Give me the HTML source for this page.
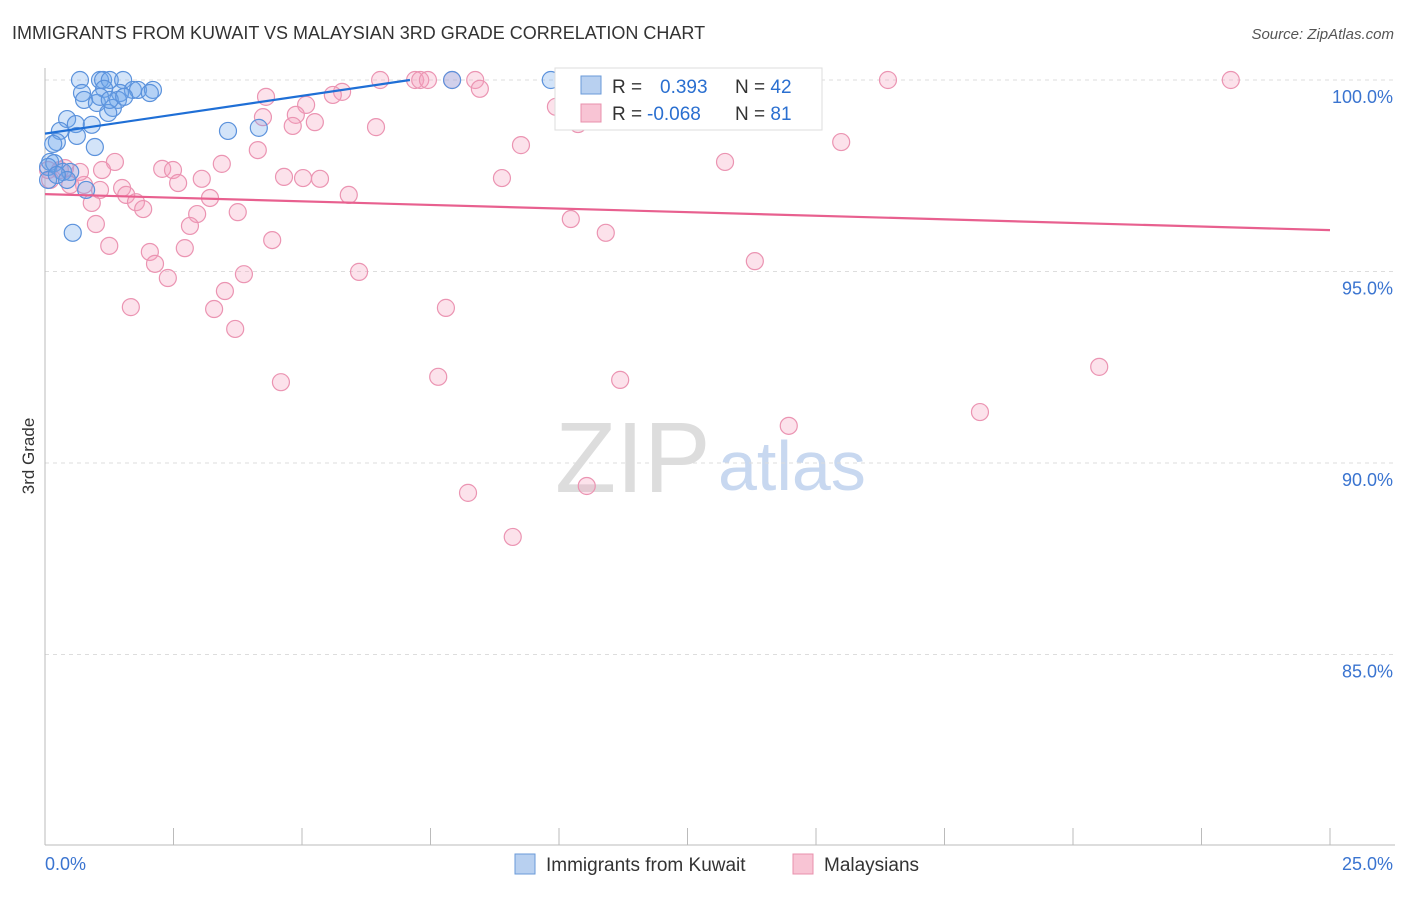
<!DOCTYPE html>
<html><head><meta charset="utf-8"><style>
body{margin:0;background:#fff;font-family:"Liberation Sans",sans-serif}
svg text{font-family:"Liberation Sans",sans-serif}
</style></head><body>
<svg width="1406" height="892">
<text x="12" y="39" font-size="18" fill="#333">IMMIGRANTS FROM KUWAIT VS MALAYSIAN 3RD GRADE CORRELATION CHART</text>
<text x="1394" y="39" font-size="15" fill="#555" font-style="italic" text-anchor="end">Source: ZipAtlas.com</text>
<text x="34" y="456" font-size="17" fill="#333" text-anchor="middle" transform="rotate(-90 34 456)">3rd Grade</text>
<text x="555" y="492" font-size="100" fill="#ddd" font-family="Liberation Serif">ZIP</text>
<text x="718" y="490" font-size="70" fill="#c8d8f0">atlas</text>
<g id="grid"></g><g id="axes"></g><g id="pts"></g><g id="lines"></g>
<g>
<rect x="555" y="68" width="267" height="62" fill="#fff" stroke="#ddd"/>
<rect x="581" y="76" width="20" height="18" fill="#b8d0f0" stroke="#6a9ad8"/>
<rect x="581" y="104" width="20" height="18" fill="#f8c4d4" stroke="#e890ac"/>
<text x="612" y="93" font-size="19" fill="#333">R = <tspan fill="#2a6fd0" x="660">0.393</tspan><tspan fill="#333" x="735">N = </tspan><tspan fill="#2a6fd0">42</tspan></text>
<text x="612" y="120" font-size="19" fill="#333">R = <tspan fill="#2a6fd0" x="647">-0.068</tspan><tspan fill="#333" x="735">N = </tspan><tspan fill="#2a6fd0">81</tspan></text>
</g>
<g>
<rect x="515" y="854" width="20" height="20" fill="#b8d0f0" stroke="#6a9ad8"/>
<text x="546" y="871" font-size="19" fill="#333">Immigrants from Kuwait</text>
<rect x="793" y="854" width="20" height="20" fill="#f8c4d4" stroke="#e890ac"/>
<text x="824" y="871" font-size="19" fill="#333">Malaysians</text>
</g>
</svg>
<script>
const yTicks=[100,95,90,85];
const yTickLabels=["100.0%","95.0%","90.0%","85.0%"];
const xTicks=[0,2.5,5,7.5,10,12.5,15,17.5,20,22.5,25];
const xTickLabels=["0.0%","25.0%"];
const kuwaitX=[0.68,1.07,1.13,1.26,1.52,9.84,7.92,0.72,1.15,1.71,1.81,2.10,1.46,0.76,1.01,1.42,1.32,1.23,0.43,0.29,0.60,0.91,0.62,0.23,0.16,0.97,3.56,4.16,0.10,0.18,0.06,0.35,0.49,0.43,0.80,0.54,0.06,0.23,1.07,1.26,1.54,2.04];
const kuwaitY=[100,100,100,100,100,100,100,99.66,99.77,99.74,99.74,99.74,99.66,99.48,99.40,99.48,99.27,99.14,98.98,98.67,98.85,98.83,98.54,98.38,98.33,98.25,98.67,98.75,97.86,97.83,97.73,97.60,97.60,97.39,97.13,96.01,97.39,97.52,99.56,99.48,99.56,99.66];
const malayX=[6.52,7.20,7.30,7.45,7.92,8.37,11.50,14.12,16.40,23.07,8.46,5.78,5.60,4.30,5.08,4.88,4.24,5.25,4.82,6.44,9.94,10.37,9.26,4.14,15.49,13.23,1.36,2.28,2.49,3.44,1.11,4.65,5.02,5.35,8.89,2.59,3.05,0.76,1.50,1.58,3.21,5.91,1.77,0.91,1.91,2.96,3.75,2.82,0.99,10.23,10.91,4.42,1.25,2.72,2.04,2.14,3.87,6.11,2.39,13.81,3.50,1.67,3.29,7.80,3.70,4.59,7.65,11.19,20.51,18.19,14.47,8.23,10.54,9.10,0.06,0.29,0.49,0.10,0.39,0.68,1.07];
const malayY=[100,100,100,100,100,100,100,100,100,100,99.77,99.69,99.61,99.56,99.35,99.09,99.03,98.90,98.80,98.77,99.30,98.85,98.30,98.17,98.38,97.86,97.86,97.68,97.65,97.81,97.65,97.47,97.44,97.42,97.44,97.31,97.42,97.26,97.18,97.00,96.92,97.00,96.81,96.79,96.63,96.50,96.55,96.19,96.24,96.37,96.01,95.82,95.67,95.61,95.51,95.20,94.93,94.99,94.83,95.27,94.49,94.07,94.02,94.05,93.50,92.11,92.25,92.17,92.51,91.33,90.97,89.22,89.40,88.07,97.65,97.65,97.26,97.39,97.70,97.60,97.13];
const kuwaitTrend=[[0,98.6],[7.1,100]];
const malayTrend=[[0,97.02],[25,96.08]];
const NS="http://www.w3.org/2000/svg";
const sx=v=>45+v/25*1285;
const sy=v=>80+(100-v)*38.3;
function mk(tag,attrs,parent){const e=document.createElementNS(NS,tag);for(const k in attrs)e.setAttribute(k,attrs[k]);parent.appendChild(e);return e;}
const grid=document.getElementById('grid'),axes=document.getElementById('axes'),pts=document.getElementById('pts'),lines=document.getElementById('lines');
yTicks.forEach((t,i)=>{
 const l=mk('line',{x1:45,x2:1395,y1:sy(t),y2:sy(t),stroke:'#ddd','stroke-dasharray':'4,4'},grid);
 
 
 const tx=mk('text',{x:1393,y:sy(t)+23,'font-size':18,fill:'#3a74d0','text-anchor':'end'},grid);
 tx.textContent=yTickLabels[i];
 
 
});
const ya=mk('line',{x1:45,x2:45,y1:68,y2:845,stroke:'#bbb'},axes);


const xa=mk('line',{x1:45,x2:1395,y1:845,y2:845,stroke:'#bbb'},axes);


xTicks.forEach(t=>{
 const l=mk('line',{x1:sx(t),x2:sx(t),y1:828,y2:845,stroke:'#bbb'},axes);
 
 
});
const xl0=mk('text',{x:45,y:870,'font-size':18,fill:'#3a74d0'},axes);
xl0.textContent=xTickLabels[0];


const xl1=mk('text',{x:1393,y:870,'font-size':18,fill:'#3a74d0','text-anchor':'end'},axes);
xl1.textContent=xTickLabels[1];


malayX.forEach((x,i)=>{
 const c=mk('circle',{cx:sx(x),cy:sy(malayY[i]),r:8.5,fill:'rgba(244,160,188,0.3)',stroke:'#eb94b2','stroke-width':1.2},pts);
 
 
});
kuwaitX.forEach((x,i)=>{
 const c=mk('circle',{cx:sx(x),cy:sy(kuwaitY[i]),r:8.5,fill:'rgba(110,165,235,0.3)',stroke:'#5b92dc','stroke-width':1.2},pts);
 
 
});
const bl=mk('line',{x1:sx(kuwaitTrend[0][0]),y1:sy(kuwaitTrend[0][1]),x2:sx(kuwaitTrend[1][0]),y2:sy(kuwaitTrend[1][1]),stroke:'#1f6fd6','stroke-width':2.2},lines);


const pl=mk('line',{x1:sx(malayTrend[0][0]),y1:sy(malayTrend[0][1]),x2:sx(malayTrend[1][0]),y2:sy(malayTrend[1][1]),stroke:'#e8608f','stroke-width':2.2},lines);


</script>
</body></html>
